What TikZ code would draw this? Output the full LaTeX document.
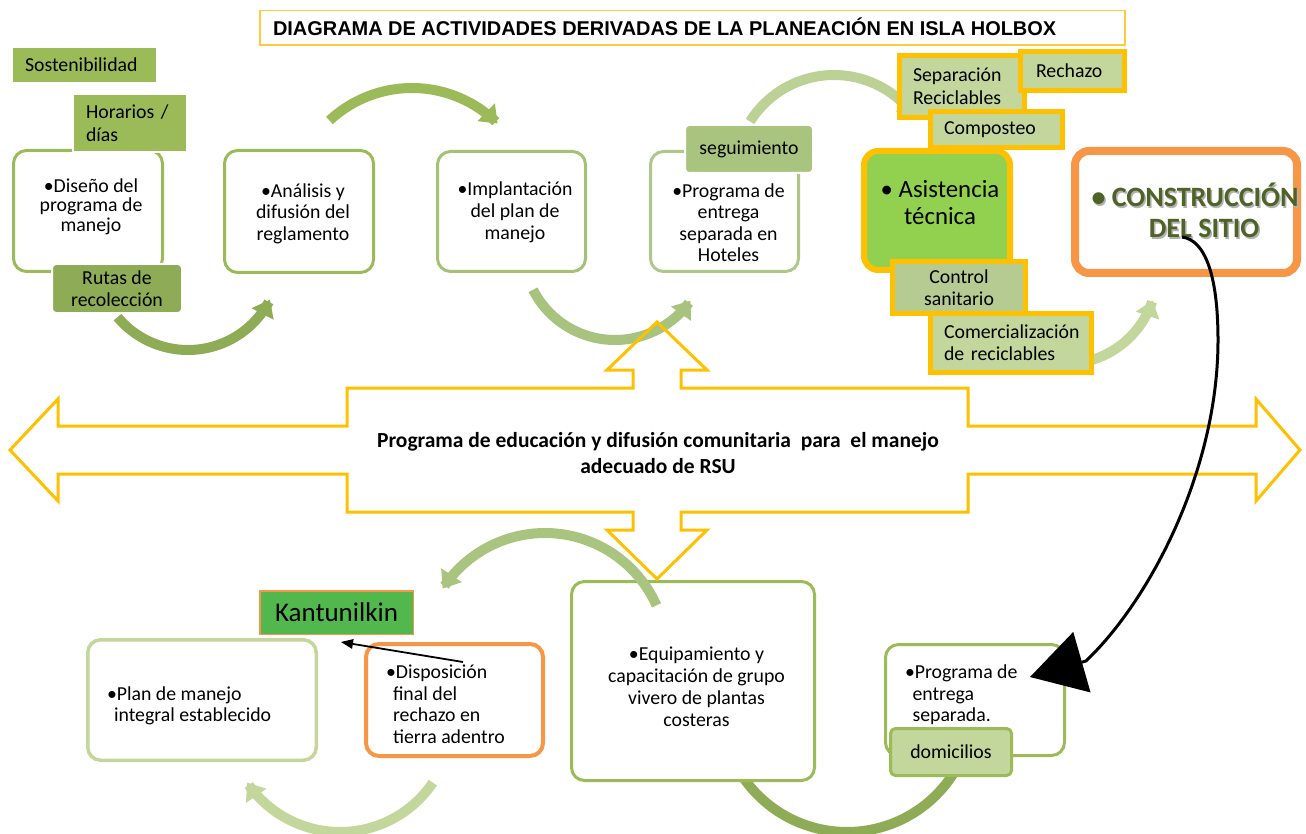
\documentclass[tikz,border=0pt]{standalone}
\usepackage{fontspec}
\setmainfont{Carlito}
\newfontfamily\arialfont{Liberation Sans}
\usetikzlibrary{arrows.meta}
\definecolor{gA}{HTML}{9BBB59}
\definecolor{gB}{HTML}{A5C176}
\definecolor{gC}{HTML}{AFC78A}
\definecolor{gDark}{HTML}{8EAC55}
\definecolor{gMid}{HTML}{A8C37D}
\definecolor{gSeg}{HTML}{A9C47F}
\definecolor{gLight}{HTML}{C3D69B}
\definecolor{gArc}{HTML}{BCD196}
\definecolor{gCtrl}{HTML}{B5CB91}
\definecolor{gBright}{HTML}{92D050}
\definecolor{gKant}{HTML}{52B84E}
\definecolor{yel}{HTML}{FFC000}
\definecolor{yelT}{HTML}{FFCB3C}
\definecolor{ora}{HTML}{F79646}
\definecolor{olive}{HTML}{4F6228}
\newcommand{\fsz}{\fontsize{19.8}{21.5}\selectfont}
\newcommand{\garc}[6]{\draw[line width=10pt, draw=#1, -{Triangle[length=16pt,width=25pt,line width=0pt]}] plot[domain=#5:#6, samples=60, smooth] ({#2+#4*cos(\x)},{#3+#4*sin(\x)});}
\begin{document}
\begin{tikzpicture}[x=1pt,y=-1pt,
  every node/.style={inner sep=0pt,outer sep=0pt},
  mbox/.style={draw=#1, line width=3pt, fill=white, rounded corners=13pt},
  lab/.style={fill=gA, font=\fsz},
  yb/.style={fill=gLight, draw=yel, line width=5pt, font=\fsz},
  txt/.style={font=\fsz, align=center, anchor=base}]
\useasboundingbox (0,0) rectangle (1306,834);

% circular arrows behind boxes
\garc{gDark}{188}{258}{92}{140}{27}
\garc{gA}{412}{209}{121}{-133}{-45}
\garc{gMid}{615}{248}{92}{153}{35}
\garc{gArc}{834}{174}{99}{-148}{-35}
\garc{gLight}{1065}{272}{92}{75}{18}
\garc{gLight}{340}{720}{112}{34}{146}
\garc{gDark}{847}{706}{126}{30}{155}

% title
\node[draw=yelT, line width=1.5pt, minimum width=865pt, minimum height=34.5pt] (title) at (692.5,28) {};
\node[font=\arialfont\bfseries\fontsize{19.95}{22}\selectfont, anchor=base west] (ttl) at (273,35.5) {DIAGRAMA DE ACTIVIDADES DERIVADAS DE LA PLANEACIÓN EN ISLA HOLBOX};

% top-left group
\node[lab, minimum width=143pt, minimum height=34pt, inner xsep=12pt, text width=119pt, align=left] (sost) at (84.5,65) {Sostenibilidad};
\node[mbox=gA, minimum width=149pt, minimum height=121pt] (b1) at (88,211) {};
\node[lab, draw=white, line width=2pt, minimum width=114pt, minimum height=58pt, inner xsep=13pt, text width=88pt, align=left, font=\fontsize{19.8}{23}\selectfont] (hor) at (130,123) {Horarios /\\días};
\node[lab, fill=gDark, draw=white, line width=2pt, rounded corners=4pt, minimum width=130pt, minimum height=49pt, align=center] (rutas) at (117,288.5) {Rutas de\\recolección};
\node[txt, font=\fontsize{19.8}{19.7}\selectfont] (t1) at (91,231.5) {•Diseño del\\programa de\\manejo};

\node[mbox=gA, minimum width=149pt, minimum height=122pt] (b2) at (299,211.5) {};
\node[txt] (t2) at (303,240.5) {•Análisis y\\difusión del\\reglamento};

\node[mbox=gB, minimum width=148pt, minimum height=120pt] (b3) at (511.5,211.5) {};
\node[txt, font=\fontsize{19.8}{22}\selectfont] (t3) at (515,239.5) {•Implantación\\del plan de\\manejo};

\node[mbox=gC, minimum width=148pt, minimum height=120pt] (b4) at (724.5,211.5) {};
\node[fill=gSeg, draw=white, line width=2pt, rounded corners=4pt, minimum width=128pt, minimum height=48pt, font=\fsz] (seg) at (749,149) {seguimiento};
\node[txt, font=\fontsize{19.8}{21.3}\selectfont] (t4) at (728.5,261.5) {•Programa de\\entrega\\separada en\\Hoteles};

% top-right group
\node[fill=gBright, draw=yel, line width=6pt, rounded corners=14pt, minimum width=146pt, minimum height=119pt] (asis) at (937,210.5) {};
\node[font=\fontsize{24.8}{27}\selectfont, align=center, anchor=base] (tas) at (940,224.7) {• Asistencia\\técnica};
\node[yb, minimum width=125pt, minimum height=62pt, inner xsep=13.5pt, text width=98pt, align=left, font=\fontsize{19.8}{23}\selectfont] (sep) at (962,86.5) {Separación\\Reciclables};
\node[yb, minimum width=104pt, minimum height=39pt, inner xsep=15.5pt, text width=73pt, align=left] (rech) at (1072.5,71) {Rechazo};
\node[yb, minimum width=132pt, minimum height=36pt, inner xsep=13.5pt, text width=105pt, align=left] (comp) at (996.5,129.5) {Composteo};
\node[yb, fill=gCtrl, minimum width=133pt, minimum height=52pt, align=center] (ctrl) at (959,287.5) {Control\\sanitario};
\node[yb, minimum width=161pt, minimum height=59pt, inner xsep=13.5pt, text width=134pt, align=left, font=\fontsize{19.8}{22}\selectfont] (come) at (1011,343) {Comercialización\\de reciclables};

\node[draw=ora, line width=8pt, fill=white, rounded corners=14pt, minimum width=222pt, minimum height=122pt] (cons) at (1186,212) {};
\node[font=\bfseries\fontsize{28}{31}\selectfont, text=black!30, align=center, anchor=base] (tconsS) at (1196.5,239.5) {• CONSTRUCCIÓN\\\hspace*{18pt}DEL SITIO};
\node[font=\bfseries\fontsize{28}{31}\selectfont, text=olive, align=center, anchor=base] (tcons) at (1195,238) {• CONSTRUCCIÓN\\\hspace*{18pt}DEL SITIO};

% central text
\node[font=\bfseries\fontsize{21.5}{25.5}\selectfont, align=center, anchor=base] (tcen) at (658,473) {Programa de educación y difusión comunitaria~ para~ el manejo\\adecuado de RSU};

% bottom group
\node[mbox=gLight, line width=3.5pt, minimum width=228.5pt, minimum height=120.5pt] (plan) at (202,700) {};
\node[txt, anchor=base west, align=left, font=\fontsize{19.8}{21}\selectfont] (tplan) at (107,721.5) {•Plan de manejo\\\hspace*{7pt}integral establecido};
\node[mbox=ora, line width=4pt, minimum width=177pt, minimum height=112pt] (disp) at (454.5,700) {};
\node[txt, anchor=base west, align=left, font=\fontsize{19.8}{21.7}\selectfont] (tdisp) at (386,743.5) {•Disposición\\\hspace*{7pt}final del\\\hspace*{7pt}rechazo en\\\hspace*{7pt}tierra adentro};
\node[fill=gKant, draw=ora, line width=1.5pt, minimum width=153.5pt, minimum height=43.5pt, font=\fontsize{27}{30}\selectfont] (kant) at (336.5,612.5) {Kantunilkin};

\node[mbox=gA, minimum width=243pt, minimum height=199pt] (equip) at (693,681) {};
\node[txt, font=\fontsize{19.8}{22}\selectfont] (tequip) at (696.5,726.5) {•Equipamiento y\\capacitación de grupo\\vivero de plantas\\costeras};
\garc{gSeg}{545}{655}{122}{-24}{-147}

\node[mbox=gA, minimum width=179pt, minimum height=111pt] (prog) at (975,700) {};
\node[txt, anchor=base west, align=left] (tprog) at (905,721.5) {•Programa de\\\hspace*{7.5pt}entrega\\\hspace*{7.5pt}separada.};
\node[fill=gLight, draw=gA, line width=3pt, rounded corners=5pt, minimum width=121pt, minimum height=47pt, font=\fsz] (dom) at (951,752) {domicilios};

% yellow cross arrow
\draw[draw=yel, line width=3pt, line join=miter] (10,450) -- (58,399) -- (58,426) -- (347,426) -- (347,388) -- (633,388) -- (633,370) -- (607,370) -- (657,322) -- (707,370) -- (681,370) -- (681,388) -- (968,388) -- (968,426) -- (1256,426) -- (1256,399) -- (1300,450) -- (1256,501) -- (1256,474) -- (968,474) -- (968,512) -- (681,512) -- (681,530) -- (707,530) -- (657,579) -- (607,530) -- (633,530) -- (633,512) -- (347,512) -- (347,474) -- (58,474) -- (58,501) -- cycle;

% black connectors
\coordinate (consA) at (1182,237);
\coordinate (progA) at (1030,677);
\coordinate (dispA) at (463,662);
\coordinate (kantA) at (341,642);
\draw[line width=3pt, -{Triangle[length=54pt,width=63pt,line width=0pt]}] (consA) .. controls (1205,240) and (1218,275) .. (1218,340) .. controls (1218,470) and (1150,600) .. (1086,661) -- (progA);
\draw[line width=1.8pt, -{Triangle[length=12pt,width=10pt,line width=0pt]}] (dispA) -- (kantA);
\end{tikzpicture}
\end{document}
